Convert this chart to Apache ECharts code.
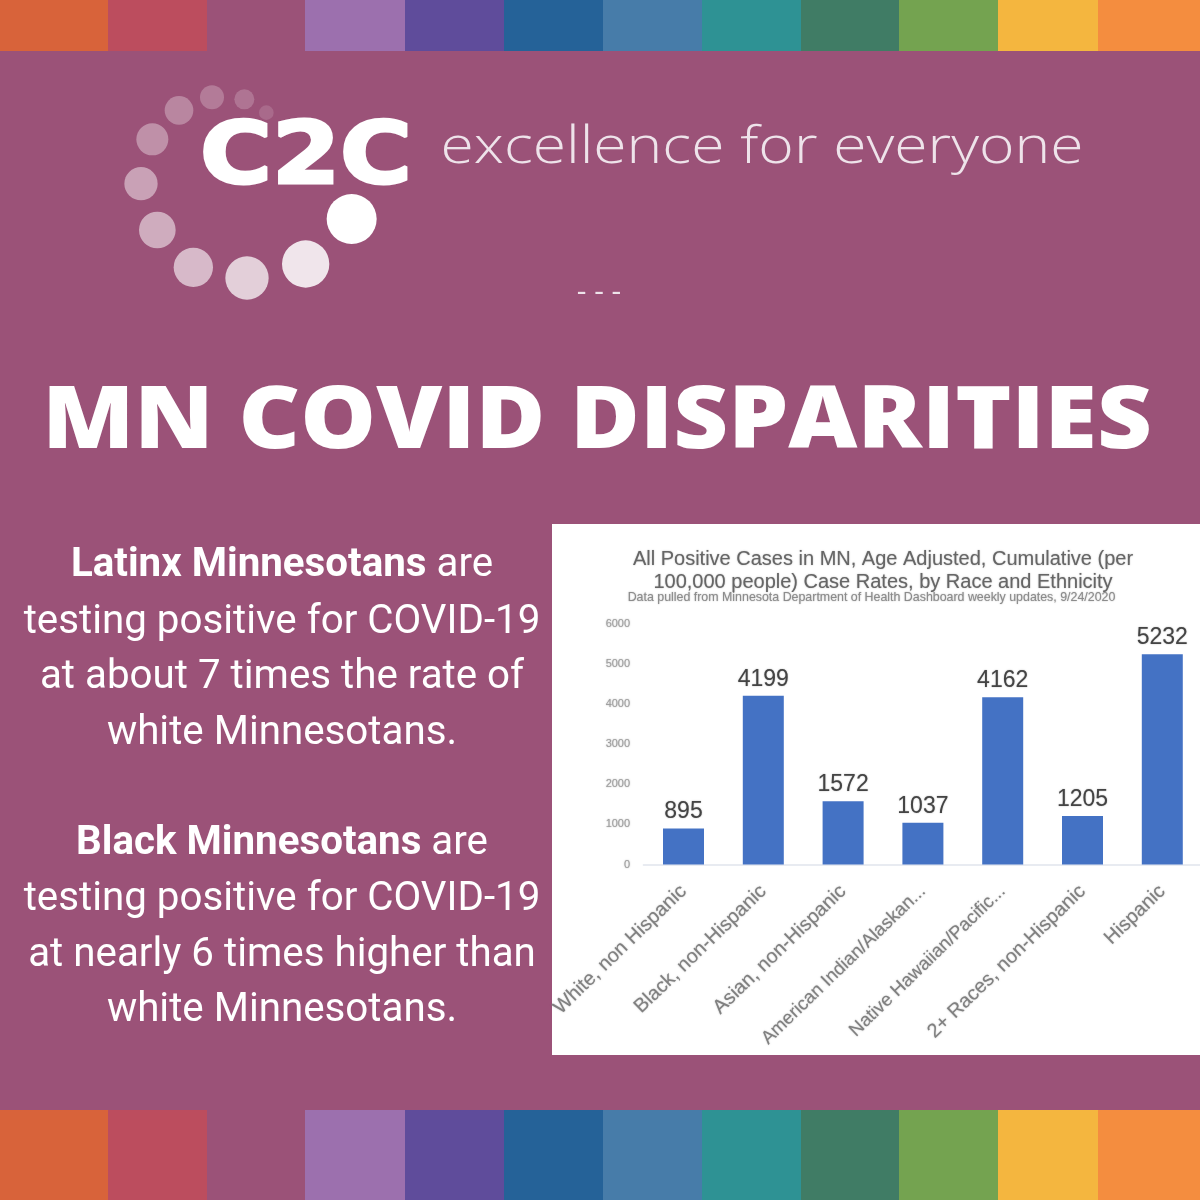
<!DOCTYPE html>
<html><head><meta charset="utf-8">
<style>html,body{margin:0;padding:0;background:#9b5278;overflow:hidden;width:1200px;height:1200px}#c{width:1210px;height:1200px}</style>
<script src="https://cdn.jsdelivr.net/npm/echarts@6/dist/echarts.min.js"></script>
</head><body><div id="c"></div>
<script>
const categories = ['White, non Hispanic','Black, non-Hispanic','Asian, non-Hispanic','American Indian/Alaskan...','Native Hawaiian/Pacific...','2+ Races, non-Hispanic','Hispanic'];
const caseRates = [895,4199,1572,1037,4162,1205,5232];
const chartTitle = 'All Positive Cases in MN, Age Adjusted, Cumulative (per\n100,000 people) Case Rates, by Race and Ethnicity';
const chartSubtitle = 'Data pulled from Minnesota Department of Health Dashboard weekly updates, 9/24/2020';
const headline = 'MN COVID DISPARITIES';
const tagline = 'excellence for everyone';
const logoWord = 'C2C';
const paragraphLines = [
  ['Latinx Minnesotans',' are'],['','testing positive for COVID-19'],['','at about 7 times the rate of'],['','white Minnesotans.'],
  ['Black Minnesotans',' are'],['','testing positive for COVID-19'],['','at nearly 6 times higher than'],['','white Minnesotans.']
];
const paragraphCentres = [566,623,678,734,844,900,956,1011];
const stripeColors = ['#d8633a','#bc4d5e','#9b5278','#9c70ae','#5f4c9b','#256298','#477ca9','#2e9294','#407c65','#74a350','#f4b63f','#f48d3f'];
const stripeEdges = [0,108,207,305,405,504,603,702,801,899,998,1098,1200];
const logoDots = [[469,128,22,.14],[403,88,30,.2],[306,82,36,.24],[207,121,43,.3],[127,208,48,.36],[93,341,50,.46],[142,480,55,.52],[250,592,59,.6],[411,624,65,.72],[587,582,71,.85],[725,447,75,1]];

const g = [];
g.push({type:'rect',shape:{x:552,y:524,width:658,height:531},style:{fill:'#fff'},z:-5});
stripeColors.forEach((c,i)=>{
  [[0,51],[1110,90]].forEach(([y,h])=>g.push({type:'rect',shape:{x:stripeEdges[i],y:y,width:stripeEdges[i+1]-stripeEdges[i],height:h},style:{fill:c},z:-5}));
});
logoDots.forEach(d=>g.push({type:'circle',shape:{cx:110+d[0]/3,cy:70+d[1]/3,r:d[2]/3},style:{fill:'#fff',opacity:d[3]},z:-4}));
g.push({type:'text',x:306,y:161,scaleX:1.14,z:-4,style:{text:logoWord,fill:'#fff',stroke:'#fff',lineWidth:3,font:'bold 86px "DejaVu Sans"',textAlign:'center',textVerticalAlign:'middle'}});
g.push({type:'text',x:762,y:148,scaleX:1.165,z:-4,style:{text:tagline,fill:'#eee3ea',font:'300 52px "Open Sans"',textAlign:'center',textVerticalAlign:'middle'}});
g.push({type:'text',x:599,y:292,z:-4,style:{text:'- - -',fill:'#eee3ea',font:'30px "Open Sans"',textAlign:'center',textVerticalAlign:'middle'}});
g.push({type:'text',x:597,y:423,scaleX:1.095,z:-4,style:{text:headline,fill:'#fff',font:'800 87px "Open Sans"',textAlign:'center',textVerticalAlign:'middle'}});
paragraphLines.forEach((l,i)=>g.push({type:'text',x:282,y:paragraphCentres[i],z:-4,style:{
  text:(l[0]?'{b|'+l[0]+'}':'')+'{r|'+l[1]+'}',align:'center',verticalAlign:'middle',textAlign:'center',textVerticalAlign:'middle',
  rich:{b:{fill:'#fff',font:'bold 40.3px Roboto'},r:{fill:'#fff',font:'40.3px Roboto'}}
}}));

const soft = {textShadowBlur:1.5,textShadowColor:'rgba(110,110,110,0.6)'};
const axisCategories = categories.map(c=>c.endsWith('...')?{value:c,textStyle:{fontSize:18.5}}:c);
const chart = echarts.init(document.getElementById('c'),null,{renderer:'canvas'});
chart.setOption({
  animation:false,
  backgroundColor:'#9b5278',
  graphic:{elements:g},
  title:[
    {left:878,top:543,textAlign:'center',text:chartTitle,
     textStyle:{color:'#666',fontFamily:'Liberation Sans',fontWeight:'normal',fontSize:20,lineHeight:23,...soft}},
    {left:866.5,top:587,textAlign:'center',text:chartSubtitle,
     textStyle:{color:'#8c8c8c',fontFamily:'Liberation Sans',fontWeight:'normal',fontSize:12.4,...soft}}
  ],
  grid:{left:643.6,top:623.5,width:558.6,height:241},
  xAxis:{type:'category',data:axisCategories,axisTick:{show:false},axisLine:{lineStyle:{color:'#e8ebf1',width:2}},
    axisLabel:{interval:0,rotate:44,color:'#808080',fontFamily:'Liberation Sans',fontSize:19.8,margin:24,...soft}},
  yAxis:{type:'value',min:0,max:6000,interval:1000,splitLine:{show:false},axisLine:{show:false},axisTick:{show:false},
    axisLabel:{color:'#a0a0a0',fontFamily:'Liberation Sans',fontSize:11,margin:13.5,padding:[2,0,0,0],formatter:v=>String(v),...soft}},
  series:[{type:'bar',data:caseRates,barWidth:41,itemStyle:{color:'#4472c4'},
    label:{show:true,position:'top',color:'#444',fontFamily:'Liberation Sans',fontSize:23,distance:5,...soft}}]
});
</script></body></html>
